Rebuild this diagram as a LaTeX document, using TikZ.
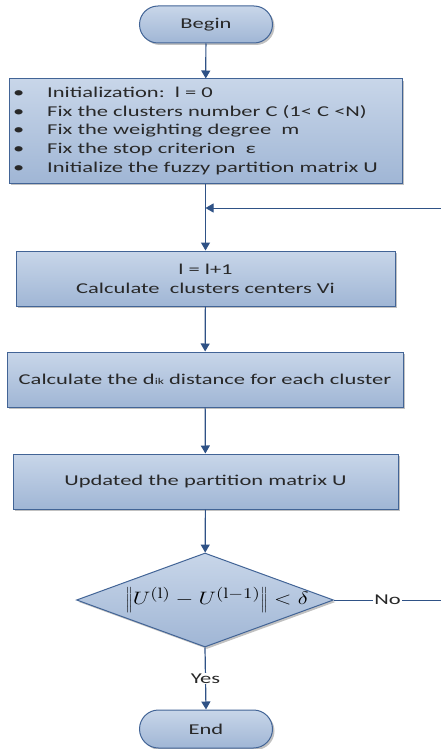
\documentclass[tikz,border=0pt]{standalone}
\usepackage[no-math]{fontspec}
\setmainfont[FakeStretch=1.5]{Carlito}
\usetikzlibrary{arrows.meta,shapes.geometric,shapes.misc,shadows}
\definecolor{bordc}{RGB}{66,100,150}
\definecolor{linec}{RGB}{47,82,134}
\definecolor{topc}{RGB}{200,214,233}
\definecolor{botc}{RGB}{160,182,213}
\definecolor{txtc}{RGB}{40,40,40}
\tikzset{
  box/.style={draw=bordc, line width=1pt, top color=topc, bottom color=botc,
    drop shadow={shadow xshift=2pt, shadow yshift=-2pt, fill=black!35, opacity=0.7},
    text=txtc, font=\fontsize{15}{18.8}\selectfont, inner sep=0pt, align=center},
  term/.style={box, rounded rectangle},
  dec/.style={box, diamond, inner sep=0pt},
  conn/.style={draw=linec, line width=1.2pt, -{Triangle[width=9pt,length=8pt]}},
  plain/.style={draw=linec, line width=1pt},
  lab/.style={fill=white, inner sep=1pt, text=txtc, font=\fontsize{15}{18}\selectfont}
}
\begin{document}
\begin{tikzpicture}[x=1pt,y=-1pt]
\useasboundingbox (0,0) rectangle (441,749);
\node[term, minimum width=133pt, minimum height=37pt] (begin) at (206,24.5) {Begin};
\node[box, minimum width=393pt, minimum height=104pt] (init) at (205.5,131) {};
\node[anchor=west, text=txtc, font=\fontsize{15}{18.8}\selectfont, align=left, inner sep=0pt] (initt) at (13,131)
 {\makebox[34pt][l]{•}Initialization:\ \ l = 0\\
  \makebox[34pt][l]{•}Fix the clusters number C (1< C <N)\\
  \makebox[34pt][l]{•}Fix the weighting degree\ \ m\\
  \makebox[34pt][l]{•}Fix the stop criterion\ \ ε\\
  \makebox[34pt][l]{•}Initialize the fuzzy partition matrix U};
\node[box, minimum width=379pt, minimum height=55pt] (c1) at (205.5,278.5) {l = l+1\\Calculate\ \ clusters centers Vi};
\node[box, minimum width=396pt, minimum height=55pt] (c2) at (205,379.5) {Calculate the d{\fontsize{9}{9}\selectfont ik} distance for each cluster};
\node[box, minimum width=385pt, minimum height=55pt] (up) at (205.5,481.5) {Updated the partition matrix U};
\node[dec, minimum width=257pt, minimum height=94pt] (d) at (205,600) {};
\node[text=black, inner sep=0pt] (formula) at (217,600) {\scalebox{1.32}[1.04]{\fontsize{19}{20}\selectfont$\left\| U^{(\mathrm{l})} - U^{(\mathrm{l}-1)} \right\| < \delta$}};
\node[term, minimum width=133pt, minimum height=38pt] (end) at (206,729) {End};
\coordinate (fbR) at (441,208);
\coordinate (fbJ) at (205.5,208);
\coordinate (noR) at (441,600);
\draw[conn] (begin) -- (init);
\draw[conn] (init.south -| c1.north) -- (c1);
\draw[conn, line width=1pt] (fbR) -- (fbJ);
\draw[conn] (c1) -- (c2);
\draw[conn] (c2) -- (up);
\draw[conn] (up) -- (d);
\draw[plain] (d.east) -- node[lab] {No} (noR);
\draw[conn] (d.south) -- node[lab] {Yes} (end.north);
\end{tikzpicture}
\end{document}
